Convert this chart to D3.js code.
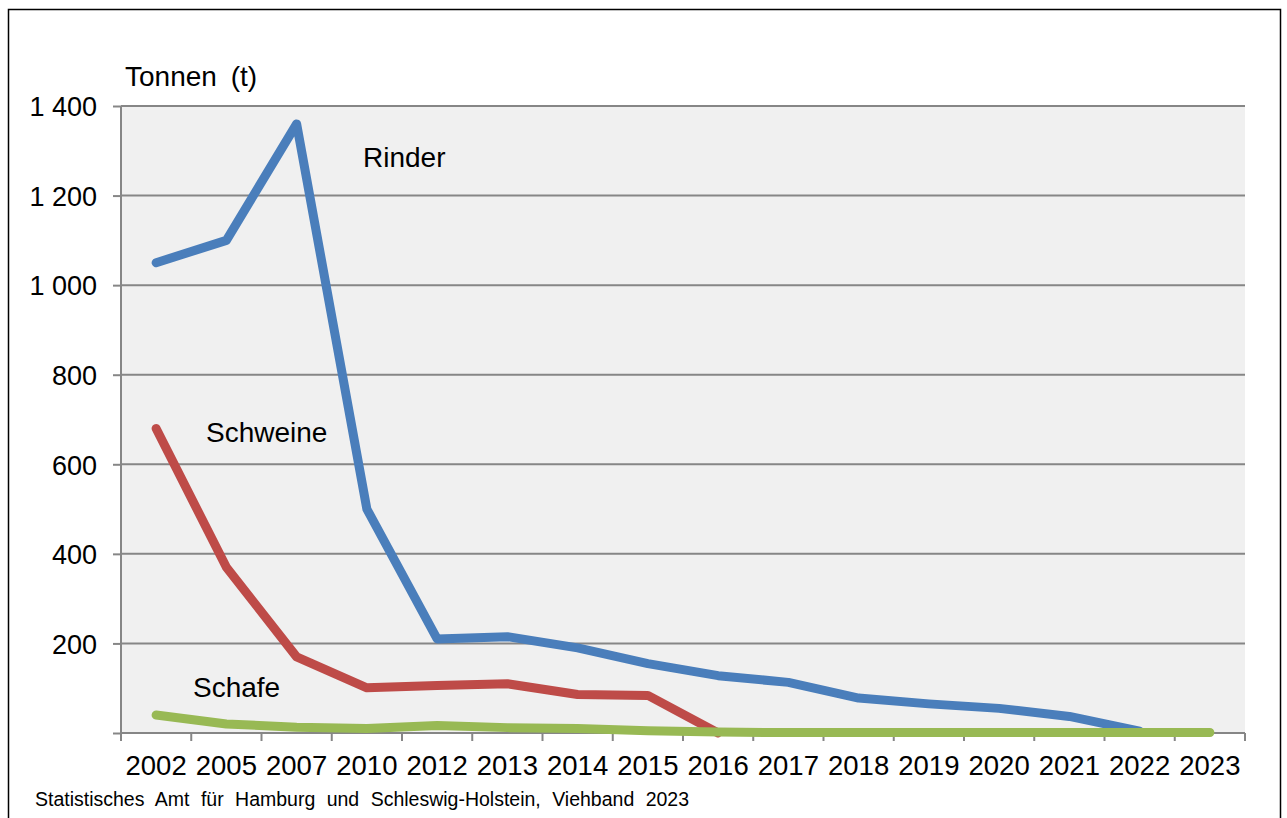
<!DOCTYPE html>
<html>
<head>
<meta charset="utf-8">
<script src="https://cdn.jsdelivr.net/npm/d3@7"></script>
<style>
  body { margin: 0; background: #fff; }
  text { font-family: "Liberation Sans", Arial, sans-serif; fill: #000; }
</style>
</head>
<body>
<div id="chart-area"></div>
<script>
// data
var years = ["2002","2005","2007","2010","2012","2013","2014","2015","2016","2017","2018","2019","2020","2021","2022","2023"];
var rinder   = [1050, 1100, 1360, 500, 210, 215, 190, 155, 128, 113, 78, 65, 55, 37, 4, null];
var schweine = [680, 370, 170, 101, 106, 110, 86, 84, 0, null, null, null, null, null, null, null];
var schafe   = [40, 20, 13, 10, 17, 12, 10, 5, 2, 1, 1, 1, 1, 1, 1, 1];
var yTicks = [0, 200, 400, 600, 800, 1000, 1200, 1400];

var width = 1287, height = 818;
var margin = {top: 106, right: 42, bottom: 85, left: 121};
var w = width - margin.left - margin.right;
var h = height - margin.top - margin.bottom;

var svg = d3.select("#chart-area").append("svg")
	.attr("width", width)
	.attr("height", height);

// outer frame
svg.append("rect")
	.attr("x", 8.5).attr("y", 9.5)
	.attr("width", 1272).attr("height", 820)
	.attr("fill", "none").attr("stroke", "#000").attr("stroke-width", 1.5);

var g = svg.append("g")
	.attr("transform", "translate(" + margin.left + ", " + margin.top + ")");

var x = d3.scaleBand().domain(years).range([0, w]);
var y = d3.scaleLinear().domain([0, 1400]).range([h, 0]);

g.append("rect")
	.attr("width", w).attr("height", h)
	.attr("fill", "#f0f0f0");

// grid
g.selectAll(".grid").data(yTicks.slice(1)).enter()
	.append("line")
	.attr("x1", 0).attr("x2", w)
	.attr("y1", d => y(d)).attr("y2", d => y(d))
	.attr("stroke", "#868686").attr("stroke-width", 2);

// y axis
var leftAxis = d3.axisLeft(y).tickValues(yTicks).tickSize(8).tickPadding(16)
	.tickFormat(d => d === 0 ? "" : d3.format(",")(d).replace(",", " "));
var ya = g.append("g").attr("class", "left axis").call(leftAxis);
ya.select(".domain").attr("stroke", "#868686").attr("stroke-width", 2).attr("d", "M0," + h + "V0");
ya.selectAll(".tick line").attr("stroke", "#868686").attr("stroke-width", 2);
ya.selectAll("text").attr("font-size", "27px").attr("dy", "0.36em")
	.style("font-family", "Liberation Sans, Arial, sans-serif").style("fill", "#000");

// x axis
var xa = g.append("g").attr("class", "bottom axis")
	.attr("transform", "translate(0, " + h + ")")
	.call(d3.axisBottom(x).tickSize(0).tickPadding(22));
xa.select(".domain").attr("stroke", "#868686").attr("stroke-width", 2).attr("d", "M0,0H" + w);
xa.selectAll("text").attr("font-size", "27.5px")
	.style("font-family", "Liberation Sans, Arial, sans-serif").style("fill", "#000");
g.selectAll(".xtick").data(d3.range(years.length + 1)).enter()
	.append("line")
	.attr("x1", i => i * x.step()).attr("x2", i => i * x.step())
	.attr("y1", h).attr("y2", h + 8)
	.attr("stroke", "#868686").attr("stroke-width", 2);

// lines
var line = d3.line()
	.defined(d => d != null)
	.x((d, i) => x(years[i]) + x.bandwidth() / 2)
	.y(d => y(d));

var series = [
	{name: "Rinder", values: rinder, color: "#4a7ebb"},
	{name: "Schweine", values: schweine, color: "#be4b48"},
	{name: "Schafe", values: schafe, color: "#98b954"}
];
series.forEach(s => {
	g.append("path")
		.attr("d", line(s.values))
		.attr("fill", "none")
		.attr("stroke", s.color)
		.attr("stroke-width", 9)
		.attr("stroke-linejoin", "round")
		.attr("stroke-linecap", "round");
});

// series labels
var labels = [
	{text: "Rinder", x: 363, y: 167},
	{text: "Schweine", x: 206, y: 442},
	{text: "Schafe", x: 193, y: 697}
];
svg.selectAll(".lbl").data(labels).enter()
	.append("text")
	.attr("x", d => d.x).attr("y", d => d.y)
	.attr("font-size", "28px")
	.text(d => d.text);

// Y Label
svg.append("text")
	.attr("x", 125).attr("y", 86)
	.attr("font-size", "28px")
	.attr("word-spacing", "6px")
	.text("Tonnen (t)");

svg.append("text")
	.attr("x", 35).attr("y", 806)
	.attr("font-size", "19.5px")
	.attr("word-spacing", "6px")
	.text("Statistisches Amt für Hamburg und Schleswig-Holstein, Viehband 2023");
</script>
</body>
</html>
